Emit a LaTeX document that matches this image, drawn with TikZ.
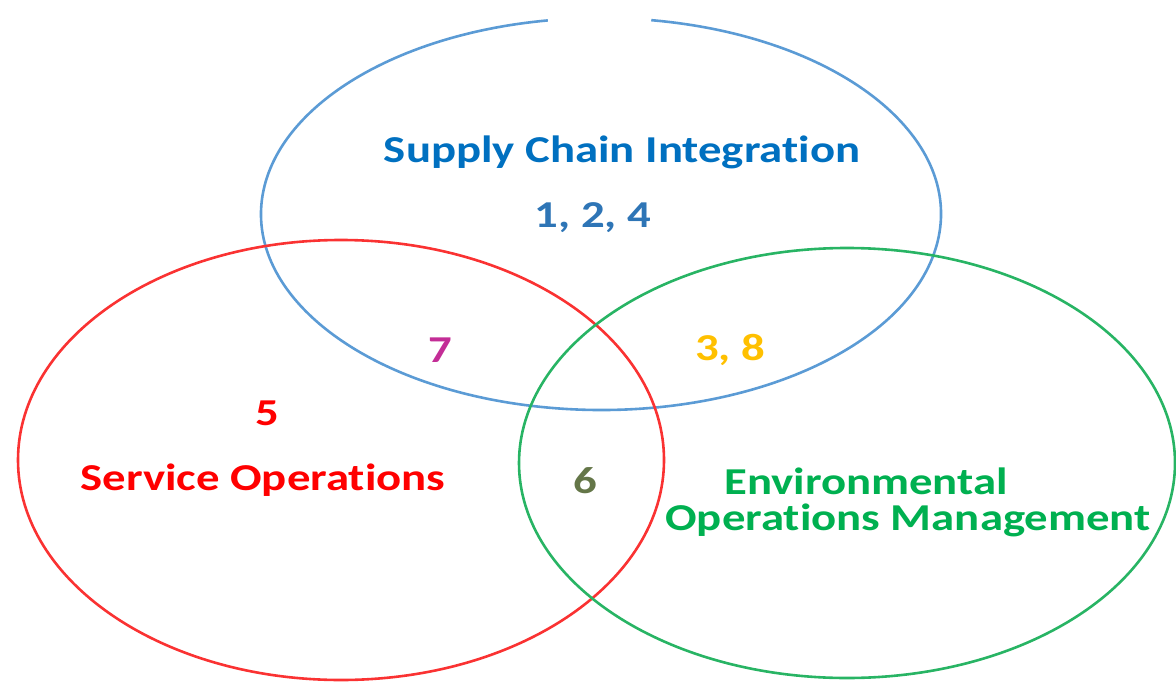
\documentclass[tikz,border=0pt]{standalone}
\usepackage{fontspec}
\setmainfont{Carlito}[Ligatures={NoCommon}]
\usepackage{xcolor}
\usepackage{tikz}

\definecolor{sciline}{RGB}{91,155,213}
\definecolor{scitext}{RGB}{0,112,192}
\definecolor{scinum}{RGB}{46,117,182}
\definecolor{soline}{RGB}{250,50,50}
\definecolor{sotext}{RGB}{255,0,0}
\definecolor{eomline}{RGB}{40,180,100}
\definecolor{eomtext}{RGB}{0,176,80}
\definecolor{overlapa}{RGB}{195,45,150}
\definecolor{overlapb}{RGB}{255,192,0}
\definecolor{overlapc}{RGB}{100,118,72}

\newcommand{\widen}[1]{\scalebox{1.23}[1]{#1}}

\begin{document}
\begin{tikzpicture}[x=0.5pt,y=-0.5pt,
    ring/.style={line width=1.3pt},
    lbl/.style={font=\bfseries\fontsize{19}{22}\selectfont, align=center, inner sep=0pt}]

    \useasboundingbox (0,0) rectangle (1176,684);

    % circles
    \draw[ring, sciline] (601,214) ++(-81.5:340 and 196) arc[start angle=-81.5, end angle=261, x radius=340, y radius=196];
    \draw[ring, soline] (341,460) ellipse [x radius=323, y radius=220];
    \draw[ring, eomline] (847,463) ellipse [x radius=328, y radius=215];

    % set labels
    \node[lbl, text=scitext] (sci) at (622,152) {\widen{Supply Chain Integration}};
    \node[lbl, text=sotext] (so) at (263,480) {\widen{Service Operations}};
    \node[lbl, text=eomtext] (eom) at (866,481) {\widen{Environmental}};
    \node[lbl, text=eomtext] (eom2) at (908,520) {\widen{Operations Management}};

    % numbers
    \node[lbl, text=scinum] (sciNum) at (593,218) {\widen{1, 2, 4}};
    \node[lbl, text=sotext] (soNum) at (267,413) {\widen{5}};
    \node[lbl, text=overlapa] (scisoNum) at (440,350) {\widen{7}};
    \node[lbl, text=overlapb] (scieomNum) at (730,350) {\widen{3, 8}};
    \node[lbl, text=overlapc] (soeomNum) at (585,481) {\widen{6}};
\end{tikzpicture}
\end{document}
